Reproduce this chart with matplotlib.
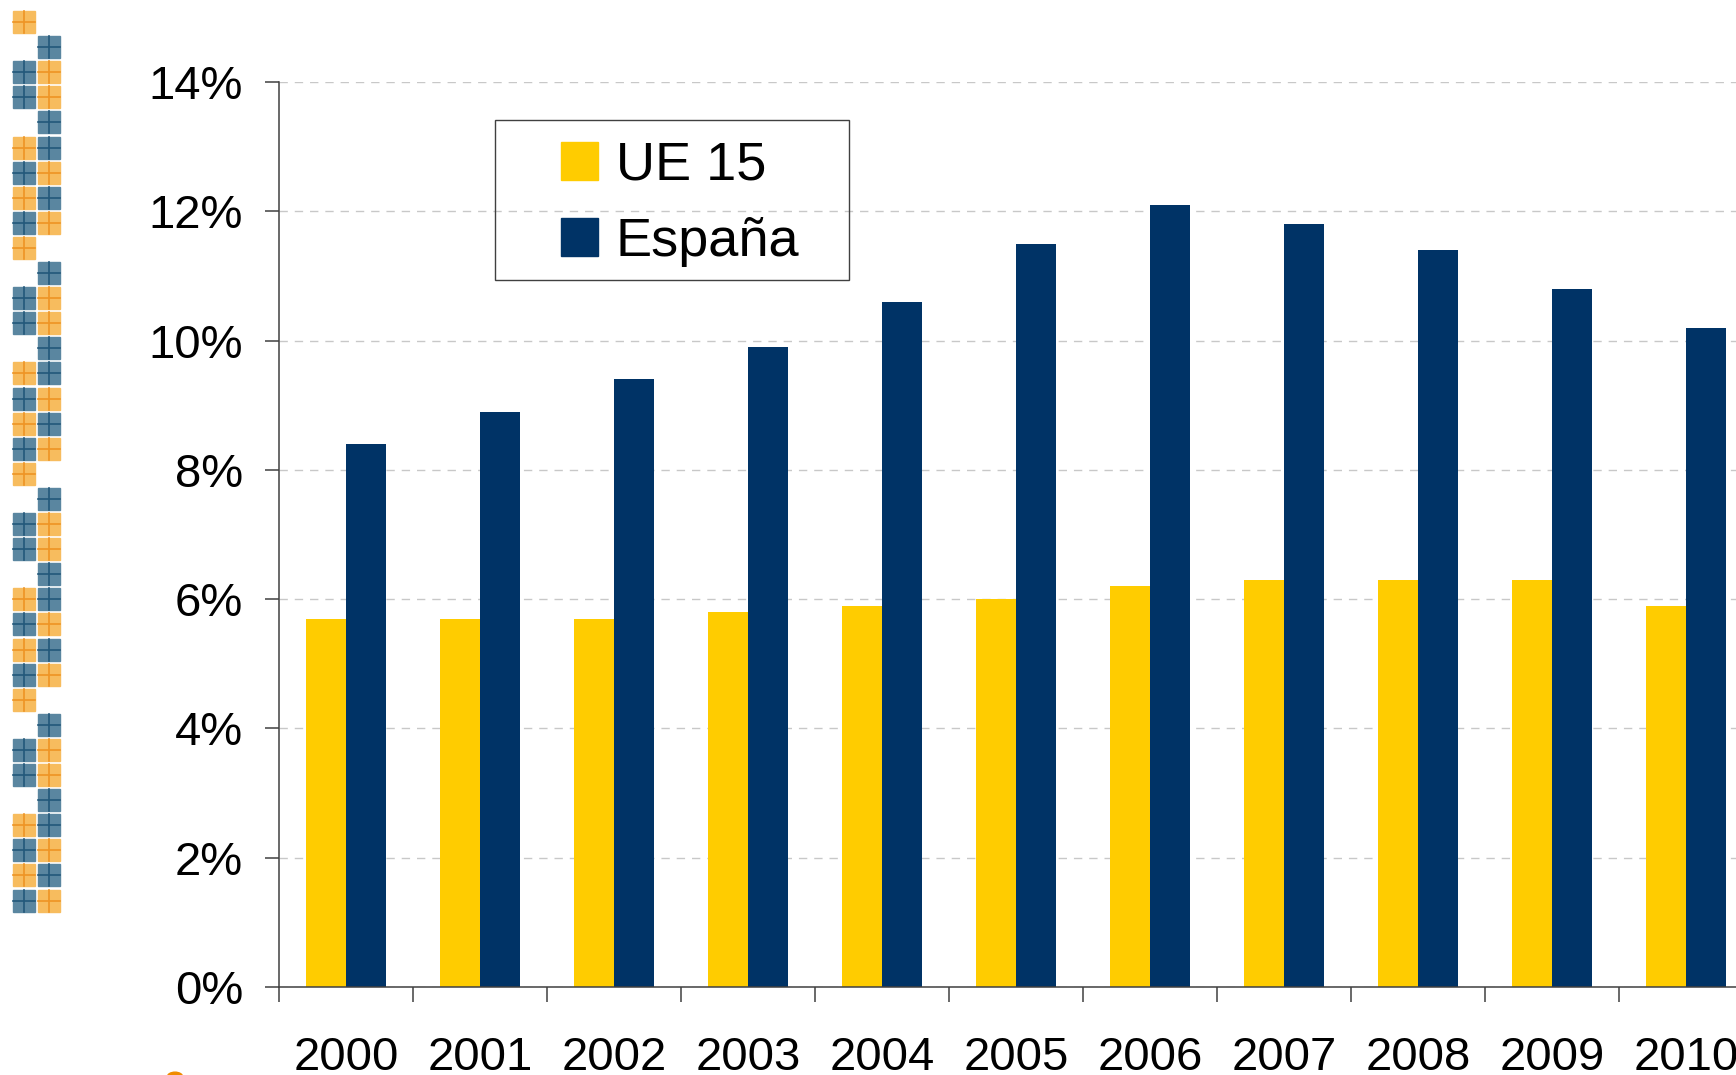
import numpy as np
import matplotlib
matplotlib.use("Agg")
import matplotlib.pyplot as plt
from matplotlib.patches import Patch, Rectangle, Circle
from matplotlib.ticker import PercentFormatter, FixedLocator

plt.rcParams["font.family"] = ["Liberation Sans", "DejaVu Sans"]

years = ["2000", "2001", "2002", "2003", "2004", "2005",
         "2006", "2007", "2008", "2009", "2010"]
ue15 = [5.7, 5.7, 5.7, 5.8, 5.9, 6.0, 6.2, 6.3, 6.3, 6.3, 5.9]
espana = [8.4, 8.9, 9.4, 9.9, 10.6, 11.5, 12.1, 11.8, 11.4, 10.8, 10.2]
series_names = ["UE 15", "España"]
yticks = [0, 2, 4, 6, 8, 10, 12, 14]

# left-hand decoration: one period of the two-column square strip
deco_period = ["O-", "-B", "BO", "BO", "-B", "OB", "BO", "OB", "BO"]

YELLOW, NAVY = "#FFCC00", "#003366"
W, H = 1736, 1075

fig = plt.figure(figsize=(W / 100, H / 100), dpi=100)
# axes runs a bit past the right edge, the 2010 group is cut off like the source
ax = fig.add_axes([279 / W, (H - 987) / H, 1474 / W, 905 / H])

x = np.arange(len(years))
bw = 0.295
ax.bar(x - bw / 2, ue15, bw, color=YELLOW, label=series_names[0], zorder=2)
ax.bar(x + bw / 2, espana, bw, color=NAVY, label=series_names[1], zorder=2)

ax.set_xlim(-0.5, len(years) - 0.5)
ax.set_ylim(0, 14)
ax.set_yticks(yticks)
ax.yaxis.set_major_formatter(PercentFormatter(xmax=100, decimals=0))
ax.set_xticks(x)
ax.set_xticklabels(years)
ax.xaxis.set_minor_locator(FixedLocator(np.arange(-0.5, len(years), 1.0)))

ax.tick_params(axis="x", which="major", length=0, pad=35, labelsize=34)
ax.tick_params(axis="x", which="minor", length=10.5, width=1.1, color="#404040")
ax.tick_params(axis="y", length=10, width=1.1, color="#404040", pad=16, labelsize=34)

for s in ("top", "right"):
    ax.spines[s].set_visible(False)
for s in ("left", "bottom"):
    ax.spines[s].set_color("#404040")
    ax.spines[s].set_linewidth(1.1)

ax.set_axisbelow(True)
ax.yaxis.grid(True, color="#c8c8c8", linewidth=1.0, linestyle=(0, (6, 5)))

# legend: handles via library, frame drawn to match the wide box of the source
handles = [Patch(color=YELLOW), Patch(color=NAVY)]
ax.legend(handles, series_names, loc="upper left", frameon=False,
          bbox_to_anchor=(561 / W, (H - 141) / H), bbox_transform=fig.transFigure,
          fontsize=39, borderpad=0, borderaxespad=0,
          handlelength=0.68, handleheight=0.68, handletextpad=0.33,
          labelspacing=0.48)
fig.patches.append(Rectangle((495 / W, (H - 280) / H), 354 / W, 160 / H,
                             transform=fig.transFigure, fill=False,
                             edgecolor="#404040", linewidth=1.0))

# decorative strip of textured squares
pal = {"O": ("#F7BC5E", "#EE9424"), "B": ("#5A86A0", "#22587A")}
rows = deco_period * 4
for r, pattern in enumerate(rows):
    top = 11 + 25.1 * r
    for c, ch in enumerate(pattern):
        if ch == "-":
            continue
        left = 13 + 25 * c
        face, line = pal[ch]
        fig.patches.append(Rectangle((left / W, (H - top - 22) / H), 22 / W, 22 / H,
                                     transform=fig.transFigure, color=face))
        fig.lines.append(plt.Line2D([(left + 11) / W] * 2,
                                    [(H - top - 22) / H, (H - top) / H],
                                    transform=fig.transFigure, color=line, lw=1.2))
        fig.lines.append(plt.Line2D([left / W, (left + 22) / W],
                                    [(H - top - 11) / H] * 2,
                                    transform=fig.transFigure, color=line, lw=1.2))

# small orange mark peeking in at the bottom edge
fig.patches.append(Circle((175 / W, -2 / H), 0.0045, transform=fig.transFigure,
                          color="#F08C00"))

fig.savefig("out.png", dpi=100)
